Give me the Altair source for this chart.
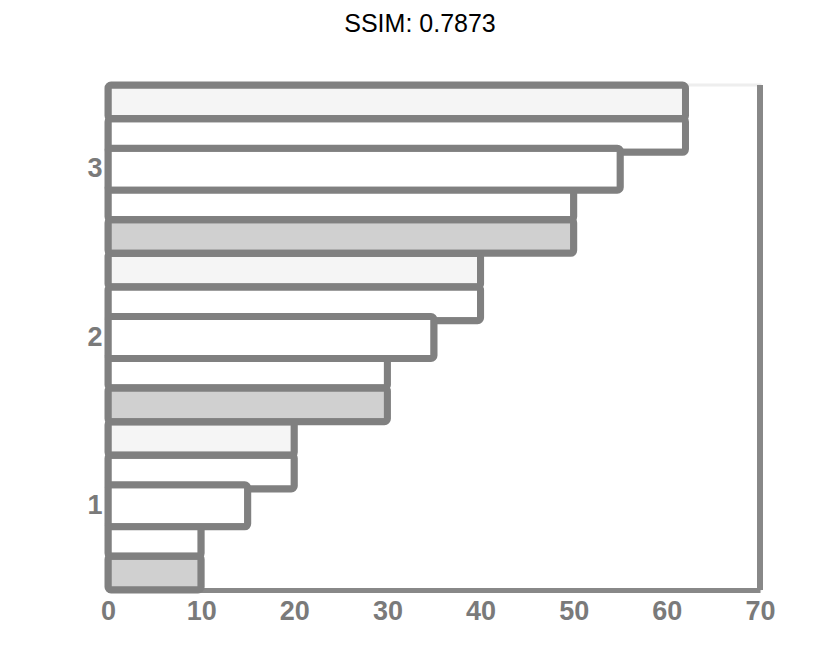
import altair as alt
import pandas as pd

# ---- data ----
groups = ["1", "2", "3"]
slots = ["A", "B", "C", "D", "E"]          # top to bottom inside a group
values_g1 = [20, 20, 15, 10, 10]
values_g2 = [40, 40, 35, 30, 30]
values_g3 = [62, 62, 55, 50, 50]
slot_fills = ["#f5f5f5", "#ffffff", "#ffffff", "#ffffff", "#d0d0d0"]
x_ticks = [0, 10, 20, 30, 40, 50, 60, 70]

rows = []
for g, vals in zip(groups, [values_g1, values_g2, values_g3]):
    for s, v in zip(slots, vals):
        rows.append({"group": g, "slot": s, "value": v})
df = pd.DataFrame(rows)

GREY = "#808080"

x_enc = alt.X("value:Q", scale=alt.Scale(domain=[0, 70], nice=False),
              axis=alt.Axis(values=x_ticks, title=None, labelFlush=False))
y_enc = alt.Y("group:N", sort=["3", "2", "1"],
              scale=alt.Scale(paddingInner=0, paddingOuter=0),
              axis=alt.Axis(title=None))
fill_enc = alt.Fill("slot:N", scale=alt.Scale(domain=slots, range=slot_fills), legend=None)

base = alt.Chart(df).transform_filter(alt.datum.slot != "C").mark_bar(
    stroke=GREY, strokeWidth=7, cornerRadius=3, strokeJoin="round"
).encode(
    x=x_enc, y=y_enc,
    yOffset=alt.YOffset("slot:N", scale=alt.Scale(domain=slots, paddingInner=0, paddingOuter=0)),
    fill=fill_enc,
)

middle = alt.Chart(df).transform_filter(alt.datum.slot == "C").mark_bar(
    stroke=GREY, strokeWidth=7, cornerRadius=3, strokeJoin="round", height=42
).encode(x=x_enc, y=y_enc, fill=fill_enc)

right_line = alt.Chart(df).mark_rule(color="#888888", strokeWidth=5).encode(
    x=alt.datum(70)
)

chart = alt.layer(base, middle, right_line).properties(
    width=652, height=505,
    autosize=alt.AutoSizeParams(type="none"),
    padding={"left": 100, "top": 77, "right": 60, "bottom": 50},
    title=alt.TitleParams("SSIM: 0.7873", fontSize=25, font="Liberation Sans",
                          fontWeight="normal", color="#000000", anchor="middle",
                          offset=45, dx=-14),
).configure_view(stroke="#eeeeee", strokeWidth=3).configure_axis(
    grid=False, ticks=False, domainColor="#888888", domainWidth=5,
    labelColor="#7a7a7a", labelFontSize=27, labelFontWeight="bold",
    labelFont="Liberation Sans",
).configure_axisY(labelPadding=6, labelAngle=0).configure_axisX(labelPadding=8)

chart.save("out.html", embed_options={"renderer": "svg", "actions": False})
